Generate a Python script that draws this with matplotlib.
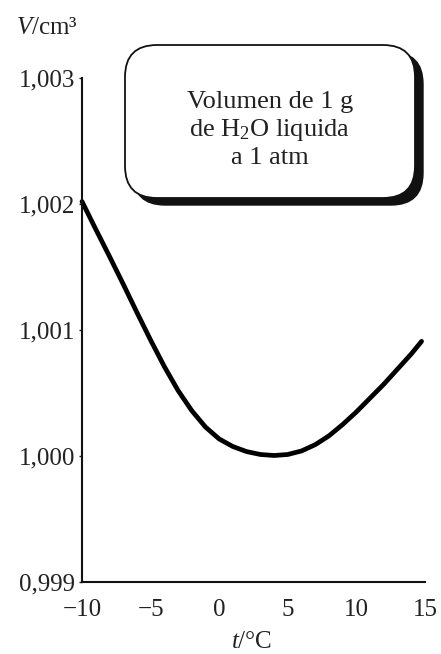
import matplotlib
matplotlib.use("Agg")
import matplotlib.pyplot as plt
from matplotlib.patches import FancyBboxPatch

plt.rcParams['font.family'] = ['Liberation Serif', 'DejaVu Serif']
plt.rcParams['mathtext.fontset'] = 'custom'
plt.rcParams['mathtext.rm'] = 'Liberation Serif'
plt.rcParams['mathtext.it'] = 'Liberation Serif:italic'

# data
temps = [-10, -9, -8, -7, -6, -5, -4, -3, -2, -1, 0, 1, 2, 3, 4, 5, 6, 7,
         8, 9, 10, 11, 12, 13, 14, 14.75]
volumes = [1.00202, 1.00180, 1.001585, 1.001365, 1.00114, 1.00092, 1.00071,
           1.00052, 1.00036, 1.00023, 1.000135, 1.000075, 1.000035,
           1.000012, 1.000004, 1.000012, 1.00004, 1.00009, 1.00016,
           1.00025, 1.00035, 1.00046, 1.00057, 1.00069, 1.00081, 1.00091]
x_ticks = [-10, -5, 0, 5, 10, 15]
x_tick_labels = ['\u221210', '\u22125', '0', '5', '10', '15']
y_ticks = [0.999, 1.000, 1.001, 1.002, 1.003]
y_tick_labels = ['0,999', '1,000', '1,001', '1,002', '1,003']

W, H = 441, 654
fig = plt.figure(figsize=(W / 100, H / 100), dpi=100)
ax = fig.add_axes([82 / W, 1 - 582 / H, (425 - 82) / W, (582 - 78) / H])

ax.plot(temps, volumes, color='black', lw=3.4, solid_capstyle='round',
        solid_joinstyle='round', clip_on=False)
ax.set_xlim(-10, 15)
ax.set_ylim(0.999, 1.003)
ax.set_xticks(x_ticks)
ax.set_xticklabels(x_tick_labels)
ax.set_yticks(y_ticks)
ax.set_yticklabels(y_tick_labels)
for s in ['top', 'right']:
    ax.spines[s].set_visible(False)
for s in ['left', 'bottom']:
    ax.spines[s].set_linewidth(1.5)
    ax.spines[s].set_color('#111111')
ax.tick_params(axis='both', labelsize=18, colors='#222222', length=2,
               width=1)
ax.tick_params(axis='x', pad=12, length=0)
ax.tick_params(axis='y', pad=3)

fig.text(47 / W, 1 - 28 / H, '$V$/cm\u00b3', fontsize=18, color='#222222',
         ha='center', va='center')
fig.text(252 / W, 1 - 642 / H, '$t$/\u00b0C', fontsize=18, color='#222222',
         ha='center', va='center')

# rounded label box with shadow (inches coordinates)
bl, br, bb, bt = 1.25, 4.15, (H - 198) / 100, (H - 45) / 100
shadow = FancyBboxPatch((bl + 0.08, bb - 0.07), br - bl, bt - bb,
                        boxstyle='round,pad=0,rounding_size=0.32',
                        transform=fig.dpi_scale_trans, facecolor='#111111',
                        edgecolor='#111111', lw=1)
box = FancyBboxPatch((bl, bb), br - bl, bt - bb,
                     boxstyle='round,pad=0,rounding_size=0.32',
                     transform=fig.dpi_scale_trans, facecolor='white',
                     edgecolor='#111111', lw=1.3)
fig.patches.append(shadow)
fig.patches.append(box)

fig.text((bl + br) / 2, (H - 130) / 100,
         'Volumen de 1 g\nde H$_2$O liquida\na 1 atm',
         transform=fig.dpi_scale_trans, fontsize=19, color='#222222',
         ha='center', va='center', linespacing=1.2)

fig.savefig('out.png', dpi=100)
